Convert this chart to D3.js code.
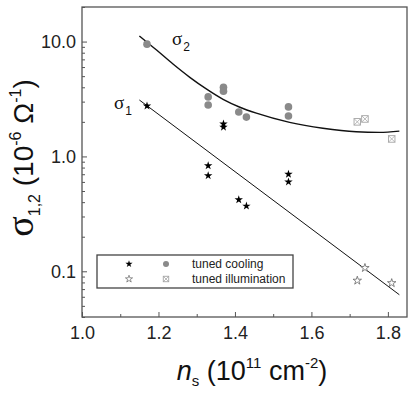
<!DOCTYPE html>
<html>
<head>
<meta charset="utf-8">
<script src="https://cdn.jsdelivr.net/npm/d3@7"></script>
<style>
  body { margin: 0; background: #fff; }
  svg { display: block; font-family: "Liberation Sans", Arial, sans-serif; }
</style>
</head>
<body>
<svg id="chart" width="415" height="398"></svg>
<script>
// sigma_1, tuned cooling (filled stars)
const s1CoolN = [1.17, 1.33, 1.33, 1.37, 1.37, 1.41, 1.43, 1.54, 1.54];
const s1Cool  = [2.75, 0.83, 0.68, 1.92, 1.80, 0.42, 0.37, 0.70, 0.60];
// sigma_1, tuned illumination (open stars)
const s1IllumN = [1.72, 1.74, 1.81];
const s1Illum  = [0.083, 0.107, 0.079];
// sigma_2, tuned cooling (grey dots)
const s2CoolN = [1.17, 1.33, 1.33, 1.37, 1.37, 1.41, 1.43, 1.54, 1.54];
const s2Cool  = [9.5, 3.3, 2.8, 4.0, 3.7, 2.44, 2.2, 2.7, 2.25];
// sigma_2, tuned illumination (crossed squares)
const s2IllumN = [1.72, 1.74, 1.81];
const s2Illum  = [2.0, 2.12, 1.42];
// fit curves
const fit1N = [1.15, 1.83];
const fit1  = [3.1, 0.0625];
const fit2N = [1.15, 1.195, 1.238, 1.282, 1.326, 1.369, 1.413, 1.456, 1.543, 1.63, 1.717, 1.778, 1.83];
const fit2  = [11.2, 8.44, 6.37, 4.88, 3.85, 3.14, 2.68, 2.38, 1.98, 1.76, 1.64, 1.62, 1.66];

const xMajor = [1.0, 1.2, 1.4, 1.6, 1.8];
const xMinor = [1.1, 1.3, 1.5, 1.7];
const yMajor = [0.1, 1, 10];
const yMajorLabels = ["0.1", "1.0", "10.0"];

var margin = { top: 7, left: 82, right: 8, bottom: 81 },
    width = 415 - margin.left - margin.right,
    height = 398 - margin.top - margin.bottom;

var svg = d3.select("#chart");
var g = svg.append("g").attr("transform", "translate(" + margin.left + "," + margin.top + ")");

var x = d3.scaleLinear().domain([1.0, 1.85]).range([0, width]);
var y = d3.scaleLog().domain([0.04, 20]).range([height, 0]);

var yMinor = [];
[0.01, 0.1, 1, 10].forEach(function(dec) {
  for (var k = 2; k <= 9; k++) {
    var v = +(dec * k).toPrecision(3);
    if (v >= 0.04 && v <= 20) yMinor.push(v);
  }
});

var axisColor = "#555";

// x axis
var xAx = g.append("g").attr("transform", "translate(0," + height + ")")
  .call(d3.axisBottom(x).tickValues(xMajor).tickSize(-5).tickPadding(6).tickFormat(d3.format(".1f")));
xAx.select(".domain").remove();
xAx.selectAll("line").attr("stroke", axisColor);
xAx.selectAll("text").attr("font-size", 18).attr("fill", "#222").attr("dy", "0.9em");
var xMin = g.append("g").attr("transform", "translate(0," + height + ")")
  .call(d3.axisBottom(x).tickValues(xMinor).tickSize(-3).tickFormat(""));
xMin.select(".domain").remove();
xMin.selectAll("line").attr("stroke", axisColor);

// y axis
var yAx = g.append("g")
  .call(d3.axisLeft(y).tickValues(yMajor).tickSize(-5).tickPadding(6)
    .tickFormat(function(d, i) { return yMajorLabels[i]; }));
yAx.select(".domain").remove();
yAx.selectAll("line").attr("stroke", axisColor);
yAx.selectAll("text").attr("font-size", 18).attr("fill", "#222");
var yMin = g.append("g").call(d3.axisLeft(y).tickValues(yMinor).tickSize(-3).tickFormat(""));
yMin.select(".domain").remove();
yMin.selectAll("line").attr("stroke", axisColor);

// frame
g.append("rect").attr("width", width).attr("height", height)
  .attr("fill", "none").attr("stroke", axisColor).attr("stroke-width", 1.3);

// fit lines
var line = d3.line().x(function(d) { return x(d[0]); }).y(function(d) { return y(d[1]); });
g.append("path").datum(d3.zip(fit1N, fit1)).attr("d", line)
  .attr("fill", "none").attr("stroke", "#111").attr("stroke-width", 1);
g.append("path").datum(d3.zip(fit2N, fit2)).attr("d", line.curve(d3.curveMonotoneX))
  .attr("fill", "none").attr("stroke", "#111").attr("stroke-width", 1.4);

var star = d3.symbol().type(d3.symbolStar).size(22);

// sigma2 grey dots
g.selectAll(".s2c").data(d3.zip(s2CoolN, s2Cool)).enter().append("circle")
  .attr("cx", function(d) { return x(d[0]); })
  .attr("cy", function(d) { return y(d[1]); })
  .attr("r", 3.8).attr("fill", "#8a8a8a");

// sigma2 crossed squares
function crossSq(sel, s) {
  sel.append("rect").attr("x", -s / 2).attr("y", -s / 2).attr("width", s).attr("height", s)
    .attr("fill", "#fff").attr("stroke", "#999").attr("stroke-width", 0.8);
  sel.append("path").attr("d", "M" + (-s / 2) + "," + (-s / 2) + "L" + (s / 2) + "," + (s / 2) +
      "M" + (s / 2) + "," + (-s / 2) + "L" + (-s / 2) + "," + (s / 2))
    .attr("stroke", "#aaa").attr("stroke-width", 0.8);
}
g.selectAll(".s2i").data(d3.zip(s2IllumN, s2Illum)).enter().append("g")
  .attr("transform", function(d) { return "translate(" + x(d[0]) + "," + y(d[1]) + ")"; })
  .each(function() { crossSq(d3.select(this), 6.5); });

// sigma1 filled stars
g.selectAll(".s1c").data(d3.zip(s1CoolN, s1Cool)).enter().append("path")
  .attr("d", star)
  .attr("transform", function(d) { return "translate(" + x(d[0]) + "," + y(d[1]) + ")"; })
  .attr("fill", "#000");

// sigma1 open stars
g.selectAll(".s1i").data(d3.zip(s1IllumN, s1Illum)).enter().append("path")
  .attr("d", star)
  .attr("transform", function(d) { return "translate(" + x(d[0]) + "," + y(d[1]) + ")"; })
  .attr("fill", "#fff").attr("stroke", "#666").attr("stroke-width", 0.8);

// curve labels
function sigLabel(px, py, sub) {
  var t = svg.append("text").attr("x", px).attr("y", py).attr("fill", "#111");
  t.append("tspan").attr("font-family", "'Liberation Serif', serif").attr("font-size", 19).text("σ");
  t.append("tspan").attr("font-size", 12).attr("dx", 1).attr("dy", 6).text(sub);
}
sigLabel(172, 45, "2");
sigLabel(114, 109, "1");

// legend
var lg = svg.append("g");
lg.append("rect").attr("x", 97).attr("y", 255).attr("width", 196).attr("height", 33)
  .attr("fill", "#fff").attr("stroke", "#444").attr("stroke-width", 1.3);
lg.append("path").attr("d", d3.symbol().type(d3.symbolStar).size(16))
  .attr("transform", "translate(129,264)").attr("fill", "#000");
lg.append("circle").attr("cx", 166).attr("cy", 264).attr("r", 3).attr("fill", "#8a8a8a");
lg.append("path").attr("d", d3.symbol().type(d3.symbolStar).size(16))
  .attr("transform", "translate(129,279)").attr("fill", "#fff").attr("stroke", "#666").attr("stroke-width", 0.7);
lg.append("g").attr("transform", "translate(166,279)").each(function() { crossSq(d3.select(this), 5.5); });
lg.append("text").attr("x", 192).attr("y", 268).attr("font-size", 12).attr("fill", "#222").text("tuned cooling");
lg.append("text").attr("x", 192).attr("y", 283).attr("font-size", 12).attr("fill", "#222").text("tuned illumination");

// x title
var xt = svg.append("text").attr("x", 252).attr("y", 380).attr("text-anchor", "middle")
  .attr("font-size", 27).attr("fill", "#111");
xt.append("tspan").attr("font-style", "italic").text("n");
xt.append("tspan").attr("font-size", 15).attr("dy", 6).text("s");
xt.append("tspan").attr("dy", -6).text(" (10");
xt.append("tspan").attr("font-size", 15).attr("dy", -12).text("11");
xt.append("tspan").attr("dy", 12).text(" cm");
xt.append("tspan").attr("font-size", 15).attr("dy", -12).text("-2");
xt.append("tspan").attr("dy", 12).text(")");

// y title
var yt = svg.append("text").attr("transform", "translate(33,158) rotate(-90)")
  .attr("text-anchor", "middle").attr("font-size", 28).attr("fill", "#111");
yt.append("tspan").attr("font-family", "'Liberation Serif', serif").attr("font-size", 38).text("σ");
yt.append("tspan").attr("font-size", 16).attr("dy", 7).text("1,2");
yt.append("tspan").attr("dy", -7).text(" (10");
yt.append("tspan").attr("font-size", 16).attr("dy", -12).text("-6");
yt.append("tspan").attr("dy", 12).text(" Ω");
yt.append("tspan").attr("font-size", 16).attr("dy", -12).text("-1");
yt.append("tspan").attr("dy", 12).text(")");
</script>
</body>
</html>
